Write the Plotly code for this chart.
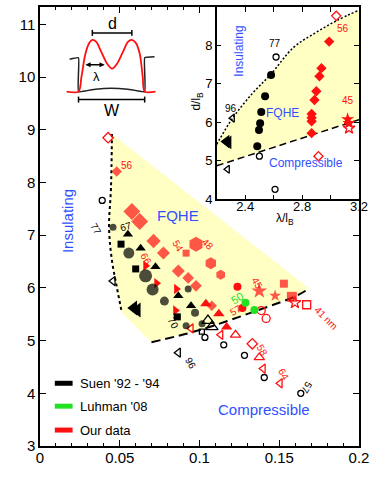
import plotly.graph_objects as go

FONT = "Liberation Sans, Arial, sans-serif"
RED = "#ff1010"
GREEN = "#22e022"
BLUE = "#3050ff"
YELLOW = "#ffffc4"

# ---------------- main panel: phase boundaries ----------------
insul_bound_x = [0.0451, 0.0445, 0.0433, 0.0451, 0.0482, 0.0513]
insul_bound_y = [8.92, 7.90, 7.14, 6.52, 6.01, 5.53]
comp_bound_x = [0.0699, 0.0989, 0.1361, 0.1608, 0.1688]
comp_bound_y = [4.97, 5.19, 5.57, 5.85, 5.99]

# ---------------- main panel: Suen '92 - '94 (black) ----------------
suen_circ_x = [0.0458, 0.0557, 0.0662, 0.0706, 0.0780, 0.0929, 0.0972, 0.0916, 0.1016]
suen_circ_y = [7.15, 6.66, 6.23, 5.97, 5.75, 5.98, 5.53, 5.28, 5.32]
suen_circ_size = [7, 11, 13, 12, 9, 7, 8, 7, 7]
suen_tri_x = [0.0551, 0.0631, 0.0724, 0.0867, 0.0947]
suen_tri_y = [7.02, 6.75, 6.40, 5.85, 5.66]
suen_sq_x = [0.0508, 0.0600, 0.0861]
suen_sq_y = [6.83, 6.36, 5.45]
suen_tl_x = [0.0588, 0.0610]
suen_tl_y = [5.62, 5.58]
suen_ocirc_x = [0.0390, 0.1034, 0.1152, 0.1282, 0.1406, 0.1635]
suen_ocirc_y = [7.66, 5.06, 4.92, 4.72, 4.30, 4.00]
suen_otl_x = [0.0458, 0.0867]
suen_otl_y = [6.13, 4.77]
suen_otri_x = [0.1053, 0.1077]
suen_otri_y = [5.38, 5.26]
suen_osq_x = [0.1015]
suen_osq_y = [5.17]

# ---------------- main panel: Luhman '08 (green) ----------------
luhman_x = [0.1288, 0.1344]
luhman_y = [5.72, 5.58]

# ---------------- main panel: our data (red) ----------------
red_dia_x = [0.0481, 0.0576, 0.0625, 0.0712, 0.0774, 0.0867, 0.0929, 0.0978, 0.1077]
red_dia_y = [8.21, 7.45, 7.26, 6.89, 6.66, 6.32, 6.19, 6.04, 5.66]
red_dia_size = [8, 13, 13, 11, 10, 10, 9, 9, 8]
red_odia_x = [0.0427, 0.1331]
red_odia_y = [8.85, 4.94]
red_sq_x = [0.0916, 0.1529, 0.1579]
red_sq_y = [6.66, 6.08, 5.83]
red_sq_size = [7, 8, 10]
red_osq_x = [0.1672]
red_osq_y = [5.68]
red_hex_x = [0.0978, 0.1071, 0.1133]
red_hex_y = [6.83, 6.47, 6.25]
red_hex_size = [15, 12, 10]
red_circ_x = [0.1238, 0.1269]
red_circ_y = [6.02, 5.62]
red_ocirc_x = [0.1387, 0.1418]
red_ocirc_y = [5.57, 5.42]
red_star_x = [0.1375, 0.1474]
red_star_y = [5.94, 5.85]
red_star_size = [12, 9]
red_ostar_x = [0.1598]
red_ostar_y = [5.72]
red_tr_x = [0.0662, 0.0731, 0.0855, 0.0849]
red_tr_y = [6.42, 6.09, 5.98, 5.57]
red_tri_x = [0.1040, 0.1121, 0.1170]
red_tri_y = [5.70, 5.51, 5.26]
red_otri_x = [0.1226, 0.1375]
red_otri_y = [5.11, 4.68]
red_otl_x = [0.0947, 0.1133, 0.1399, 0.1505]
red_otl_y = [5.23, 5.11, 4.47, 4.19]

# sample labels (well width, nm)
black_lab_text = ["77", "67", "70", "96", "57"]
black_lab_x = [0.0353, 0.0539, 0.0836, 0.0947, 0.1672]
black_lab_y = [7.11, 7.17, 5.32, 4.57, 4.11]
black_lab_angle = [60, -15, 60, 60, 120]
red_lab_text = ["56", "66", "54", "48", "45", "57", "58", "64", "41 nm"]
red_lab_x = [0.0545, 0.0662, 0.0867, 0.1053, 0.1362, 0.1226, 0.1393, 0.1529, 0.1796]
red_lab_y = [8.32, 6.55, 6.79, 6.83, 6.08, 5.57, 4.81, 4.36, 5.42]
red_lab_angle = [0, 60, 60, 45, 60, -30, 60, 60, 45]
green_lab_text = ["50"]
green_lab_x = [0.1238]
green_lab_y = [5.81]

# ---------------- inset: d/lB vs lambda/lB ----------------
in_upper_x = [2.2, 2.31, 2.45, 2.58, 2.74, 2.89, 3.04, 3.2]
in_upper_y = [5.43, 6.10, 6.75, 7.25, 7.95, 8.32, 8.64, 8.92]
in_lower_x = [2.2, 3.2]
in_lower_y = [4.87, 6.07]

in_circ_x = [2.582, 2.540, 2.513, 2.505, 2.497, 2.485]
in_circ_y = [7.23, 6.68, 6.27, 5.98, 5.80, 5.38]
in_ocirc_x = [2.617, 2.500, 2.610]
in_ocirc_y = [7.70, 5.12, 4.26]
in_tl_x = [2.268, 2.282]
in_tl_y = [5.50, 5.48]
in_otl_x = [2.311, 2.276]
in_otl_y = [6.11, 4.78]
in_dia_x = [2.990, 2.936, 2.922, 2.900, 2.887, 2.867, 2.867, 2.867, 2.867]
in_dia_y = [8.10, 7.41, 7.20, 6.81, 6.58, 6.22, 6.12, 6.03, 5.72]
in_odia_x = [3.040, 2.915]
in_odia_y = [8.77, 5.12]
in_star_x = [3.120, 3.130]
in_star_y = [6.08, 5.98]
in_ostar_x = [3.130]
in_ostar_y = [5.85]

in_lab_text = ["56", "77", "96", "45"]
in_lab_x = [3.09, 2.61, 2.297, 3.12]
in_lab_y = [8.43, 8.04, 6.37, 6.57]
in_lab_color = [RED, "black", "black", RED]

# ---------------- schematic (pixel frame) ----------------
sk_red_x = [67, 79, 82, 86, 90, 93, 97, 102, 108, 113, 118, 124, 129, 133, 137, 141, 144, 146, 157]
sk_red_y = [90, 90, 75, 52, 41, 38, 40, 50, 62, 67, 62, 50, 40, 38, 41, 52, 75, 90, 90]
sk_well_x = [70, 79, 79, 96, 112, 129, 146, 146, 156]
sk_well_y = [57.5, 56, 90, 87.5, 86.5, 87.5, 90, 56, 55]

fig = go.Figure()

# FQHE region
fig.add_trace(go.Scatter(
    x=insul_bound_x + comp_bound_x + insul_bound_x[:1],
    y=insul_bound_y + comp_bound_y + insul_bound_y[:1],
    fill="toself", fillcolor=YELLOW, mode="none", hoverinfo="skip"))
fig.add_trace(go.Scatter(x=insul_bound_x, y=insul_bound_y, mode="lines",
                         line=dict(color="black", width=2, dash="3px,3px", shape="spline")))
fig.add_trace(go.Scatter(x=comp_bound_x, y=comp_bound_y, mode="lines",
                         line=dict(color="black", width=2, dash="9px,5px", shape="spline")))


def pts(x, y, symbol, color, size, xa="x", ya="y"):
    is_open = symbol.endswith("-open")
    fig.add_trace(go.Scatter(
        x=x, y=y, mode="markers", xaxis=xa, yaxis=ya,
        marker=dict(symbol=symbol, color=color, size=size,
                    line=dict(color=color, width=1.3 if is_open else 0))))


# red
pts(red_dia_x, red_dia_y, "diamond", RED, red_dia_size)
pts(red_odia_x, red_odia_y, "diamond-open", RED, 8)
pts(red_sq_x, red_sq_y, "square", RED, red_sq_size)
pts(red_osq_x, red_osq_y, "square-open", RED, 8)
pts(red_hex_x, red_hex_y, "hexagon", RED, red_hex_size)
pts(red_circ_x, red_circ_y, "circle", RED, 8)
pts(red_ocirc_x, red_ocirc_y, "circle-open", RED, 8)
pts(red_star_x, red_star_y, "star", RED, red_star_size)
pts(red_ostar_x, red_ostar_y, "star-open", RED, 9)
pts(red_tr_x, red_tr_y, "triangle-right", RED, 9)
pts(red_tri_x, red_tri_y, "triangle-up", RED, 10)
pts(red_otri_x, red_otri_y, "triangle-up-open", RED, 9)
pts(red_otl_x, red_otl_y, "triangle-left-open", RED, 8)
# black
pts(suen_circ_x, suen_circ_y, "circle", "black", suen_circ_size)
pts(suen_tri_x, suen_tri_y, "triangle-up", "black", 9)
pts(suen_sq_x, suen_sq_y, "square", "black", 7)
pts(suen_tl_x, suen_tl_y, "triangle-left", "black", 13)
pts(suen_ocirc_x, suen_ocirc_y, "circle-open", "black", 6)
pts(suen_otl_x, suen_otl_y, "triangle-left-open", "black", 8)
pts(suen_otri_x, suen_otri_y, "triangle-up-open", "black", 11)
pts(suen_osq_x, suen_osq_y, "square-open", "black", 5)
# green
pts(luhman_x, luhman_y, "circle", GREEN, 8)

# inset
fig.add_trace(go.Scatter(
    x=in_upper_x + in_lower_x[::-1], y=in_upper_y + in_lower_y[::-1],
    fill="toself", fillcolor=YELLOW, mode="none", xaxis="x2", yaxis="y2"))
fig.add_trace(go.Scatter(x=in_upper_x, y=in_upper_y, mode="lines", xaxis="x2", yaxis="y2",
                         line=dict(color="black", width=1.5, dash="2px,2px", shape="spline")))
fig.add_trace(go.Scatter(x=in_lower_x, y=in_lower_y, mode="lines", xaxis="x2", yaxis="y2",
                         line=dict(color="black", width=1.5, dash="7px,4px")))
pts(in_dia_x, in_dia_y, "diamond", RED, 8, "x2", "y2")
pts(in_odia_x, in_odia_y, "diamond-open", RED, 7, "x2", "y2")
pts(in_star_x, in_star_y, "star", RED, 10, "x2", "y2")
pts(in_ostar_x, in_ostar_y, "star-open", RED, 9, "x2", "y2")
pts(in_circ_x, in_circ_y, "circle", "black", 8, "x2", "y2")
pts(in_ocirc_x, in_ocirc_y, "circle-open", "black", 6, "x2", "y2")
pts(in_tl_x, in_tl_y, "triangle-left", "black", 12, "x2", "y2")
pts(in_otl_x, in_otl_y, "triangle-left-open", "black", 7, "x2", "y2")

# schematic, drawn in a pixel frame laid over the main panel
fig.add_trace(go.Scatter(x=sk_well_x, y=sk_well_y, mode="lines", xaxis="x3", yaxis="y3",
                         line=dict(color="#222222", width=1.5, shape="spline", smoothing=0.3)))
fig.add_trace(go.Scatter(x=sk_red_x, y=sk_red_y, mode="lines", xaxis="x3", yaxis="y3",
                         line=dict(color=RED, width=1.8, shape="spline", smoothing=0.8)))

shapes = []
for (x0, y0, x1, y1) in [(93, 31, 133, 31), (93, 28, 93, 34), (133, 28, 133, 34),
                         (79, 98, 146, 98), (79, 95, 79, 101), (146, 95, 146, 101)]:
    shapes.append(dict(type="line", xref="x3", yref="y3", x0=x0, y0=y0, x1=x1, y1=y1,
                       line=dict(color="black", width=1.5)))
# legend swatches
legend_names = ["Suen '92 - '94", "Luhman '08", "Our data"]
legend_colors = ["black", GREEN, RED]
legend_rows = [383, 406, 430]
for c, yy in zip(legend_colors, legend_rows):
    shapes.append(dict(type="rect", xref="x3", yref="y3", x0=55, x1=73, y0=yy - 2.5, y1=yy + 2.5,
                       fillcolor=c, line=dict(width=0)))

ann = []


def txt(text, x, y, size, color="black", angle=0, xref="x", yref="y", **kw):
    ann.append(dict(text=text, x=x, y=y, xref=xref, yref=yref, showarrow=False,
                    textangle=angle, font=dict(family=FONT, size=size, color=color), **kw))


for t, c, yy in zip(legend_names, legend_colors, legend_rows):
    txt(t, 78, yy, 13, xref="x3", yref="y3", xanchor="left")

txt("d", 113, 22, 16, xref="x3", yref="y3")
txt("λ", 97, 75, 13, xref="x3", yref="y3")
txt("W", 113, 109, 16, xref="x3", yref="y3")
ann.append(dict(x=86, y=63, ax=107, ay=63, xref="x3", yref="y3", axref="x3", ayref="y3",
                text="", showarrow=True, arrowhead=2, arrowside="end+start",
                arrowsize=0.8, arrowwidth=1.3, arrowcolor="black"))

txt("Insulating", 0.0173, 7.26, 15, BLUE, -90)
txt("FQHE", 0.0867, 7.38, 15, BLUE)
txt("Compressible", 0.1405, 3.70, 15, BLUE)
for t, x, y, a in zip(black_lab_text, black_lab_x, black_lab_y, black_lab_angle):
    txt(t, x, y, 10, "black", a)
for t, x, y, a in zip(red_lab_text, red_lab_x, red_lab_y, red_lab_angle):
    txt(t, x, y, 10, RED, a)
for t, x, y in zip(green_lab_text, green_lab_x, green_lab_y):
    txt(t, x, y, 11, GREEN, -30)

txt("Insulating", 2.36, 7.85, 12, BLUE, -90, xref="x2", yref="y2")
txt("FQHE", 2.665, 6.24, 12, BLUE, xref="x2", yref="y2")
txt("Compressible", 2.83, 4.94, 12, BLUE, xref="x2", yref="y2")
for t, x, y, c in zip(in_lab_text, in_lab_x, in_lab_y, in_lab_color):
    txt(t, x, y, 10, c, xref="x2", yref="y2")

# axis titles
txt("α ≡ Δ<sub>SAS</sub>/(e<sup>2</sup>/4πεl<sub>B</sub>)", 201, 487, 13, xref="x3", yref="y3")
txt("d/l<sub>B</sub>", 13, 215, 13, angle=-90, xref="x3", yref="y3")
txt("λ/l<sub>B</sub>", 288, 218, 12, xref="x3", yref="y3")
txt("d/l<sub>B</sub>", 199, 100, 12, angle=-90, xref="x3", yref="y3")

axis_style = dict(showline=True, linecolor="black", linewidth=1.5, mirror="ticks",
                  ticks="inside", tickcolor="black", showgrid=False, zeroline=False)

fig.update_layout(
    width=373, height=500,
    margin=dict(l=40, r=10, t=5, b=54),
    paper_bgcolor="white", plot_bgcolor="white",
    showlegend=False,
    font=dict(family=FONT, color="black"),
    xaxis=dict(range=[0, 0.2], tickvals=[0, 0.05, 0.1, 0.15, 0.2],
               ticktext=["0", "0.05", "0.1", "0.15", "0.2"], ticklen=6,
               ticklabelstandoff=-3,
               tickfont=dict(size=15), minor=dict(dtick=0.01, ticklen=3, ticks="inside",
                                                  tickcolor="black"), **axis_style),
    yaxis=dict(range=[3, 11.33], dtick=1, ticklen=6, tickfont=dict(size=15), **axis_style),
    xaxis2=dict(domain=[0.554, 1.0], anchor="y2", range=[2.2, 3.2],
                tickvals=[2.4, 2.8, 3.2], ticktext=["2.4", "2.8", "3.2"], ticklen=5,
                ticklabelstandoff=-6, tickfont=dict(size=13),
                minor=dict(tickvals=[2.6, 3.0], ticklen=5, ticks="inside", tickcolor="black"),
                **axis_style),
    yaxis2=dict(domain=[0.562, 1.0], anchor="x2", range=[4, 9], dtick=1, ticklen=5,
                tickfont=dict(size=13), **axis_style),
    xaxis3=dict(overlaying="x", range=[40, 363], visible=False),
    yaxis3=dict(overlaying="y", range=[446, 5], visible=False),
    shapes=shapes,
    annotations=ann,
)

# the page's default body margin would shift the figure; remove it
fig.write_html("out.html", config={"displayModeBar": False},
               post_script="document.body.style.margin='0';")
